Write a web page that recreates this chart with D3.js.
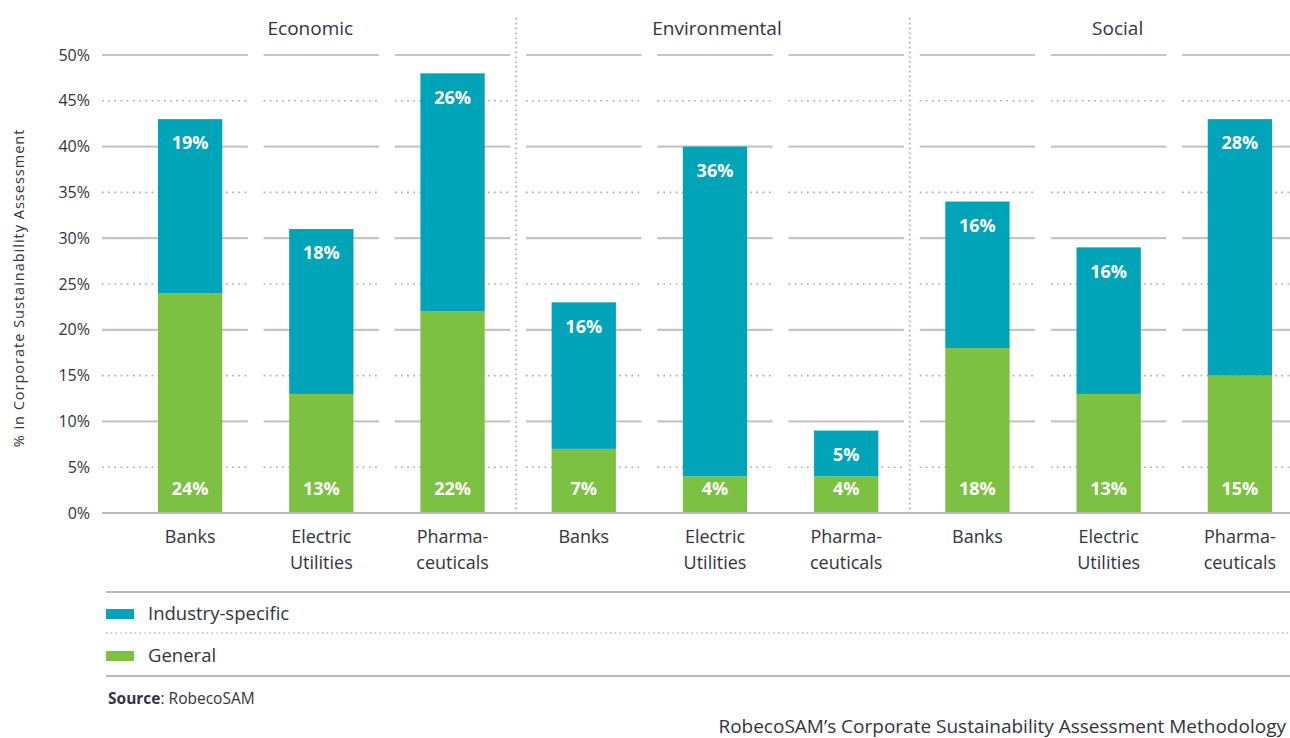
<!DOCTYPE html>
<html>
<head>
<meta charset="utf-8">
<script src="https://cdn.jsdelivr.net/npm/d3@7"></script>
<style>
  body { margin: 0; background: #fff; }
  svg text { font-family: 'Open Sans', sans-serif; fill: #33333d; }
</style>
</head>
<body>
<div id="chart"></div>
<script>
const { d3 } = window;

// Data
const groups = ['Economic', 'Environmental', 'Social'];
const industries = ['Banks', 'Electric Utilities', 'Pharmaceuticals'];
const industryLines = [['Banks'], ['Electric', 'Utilities'], ['Pharma-', 'ceuticals']];
const generalValues = [24, 13, 22, 7, 4, 4, 18, 13, 15];
const specificValues = [19, 18, 26, 16, 36, 5, 16, 16, 28];
const yTicks = [0, 5, 10, 15, 20, 25, 30, 35, 40, 45, 50];
const seriesNames = ['Industry-specific', 'General'];
const seriesColors = ['#00a4b8', '#7dc142'];

function chartInit() {
  const width = 1290;
  const height = 738;
  const axisX = 102;
  // titles sit a little off the middle band in the original
  const titleNudge = [-11, 2, 9];

  const rows = [];
  groups.forEach((g, gi) => {
    industries.forEach((ind, ii) => {
      const i = gi * industries.length + ii;
      rows.push({
        key: `${g}|${ind}`,
        group: g,
        lines: industryLines[ii],
        general: generalValues[i],
        specific: specificValues[i],
      });
    });
  });

  const svg = d3.select('#chart')
    .append('svg')
    .attr('width', width)
    .attr('height', height);

  const x = d3.scaleBand()
    .domain(rows.map((d) => d.key))
    .range([124.5, 1305.5])
    .paddingInner(0.51)
    .paddingOuter(0.255);

  const step = x.step();
  const cx = (k) => x(k) + x.bandwidth() / 2;

  const y = d3.scaleLinear()
    .domain([0, 50])
    .range([513, 55]);

  // Grid segments, one per category
  const grid = svg.append('g').attr('class', 'grid');
  yTicks.filter((t) => t > 0).forEach((t) => {
    rows.forEach((r, i) => {
      const x1 = i === 0 ? axisX : cx(r.key) - 0.44 * step;
      const x2 = i === rows.length - 1 ? width : cx(r.key) + 0.44 * step;
      const major = t % 10 === 0;
      grid.append('line')
        .attr('x1', x1)
        .attr('x2', x2)
        .attr('y1', y(t))
        .attr('y2', y(t))
        .attr('stroke', major ? '#c8c4c4' : '#a9a9a9')
        .attr('stroke-width', major ? 2.2 : 1.6)
        .attr('stroke-dasharray', major ? null : '1.6,4.6');
    });
  });

  // Dotted separators between groups
  for (let gi = 1; gi < groups.length; gi += 1) {
    const left = rows[gi * industries.length - 1].key;
    const right = rows[gi * industries.length].key;
    const sx = (cx(left) + cx(right)) / 2 - 2;
    svg.append('line')
      .attr('x1', sx)
      .attr('x2', sx)
      .attr('y1', 18)
      .attr('y2', y(0))
      .attr('stroke', '#a9a9a9')
      .attr('stroke-width', 1.6)
      .attr('stroke-dasharray', '1.6,3.2');
  }

  // Y axis
  const yAxis = d3.axisLeft(y)
    .tickValues(yTicks)
    .tickFormat((d) => `${d}%`)
    .tickSize(0)
    .tickPadding(12);

  const yg = svg.append('g')
    .attr('class', 'y axis')
    .attr('transform', `translate(${axisX}, 0)`)
    .call(yAxis);
  yg.select('.domain').remove();
  yg.selectAll('text')
    .style('font-size', '16px')
    .attr('fill', '#33333d');

  svg.append('text')
    .attr('transform', 'translate(19, 288) rotate(-90)')
    .attr('text-anchor', 'middle')
    .attr('dy', '0.35em')
    .style('font-size', '14.5px')
    .style('letter-spacing', '1px')
    .text('% in Corporate Sustainability Assessment');

  // Stacked bars
  const stack = d3.stack().keys(['general', 'specific']);
  const layers = stack(rows);

  svg.append('g')
    .selectAll('g')
    .data(layers)
    .join('g')
    .attr('fill', (d) => (d.key === 'general' ? seriesColors[1] : seriesColors[0]))
    .selectAll('rect')
    .data((d) => d)
    .join('rect')
    .attr('x', (d) => x(d.data.key))
    .attr('width', x.bandwidth())
    .attr('y', (d) => y(d[1]))
    .attr('height', (d) => y(d[0]) - y(d[1]));

  // Baseline
  svg.append('line')
    .attr('x1', axisX)
    .attr('x2', width)
    .attr('y1', y(0))
    .attr('y2', y(0))
    .attr('stroke', '#bdb9b9')
    .attr('stroke-width', 2.2);

  // Value labels
  const labels = svg.append('g')
    .attr('text-anchor', 'middle')
    .style('font-size', '18px')
    .style('font-weight', 'bold');

  labels.selectAll('.gen')
    .data(rows)
    .join('text')
    .attr('class', 'gen')
    .attr('x', (d) => cx(d.key))
    .attr('y', y(0) - 24)
    .attr('dy', '0.35em')
    .style('fill', '#fff')
    .text((d) => `${d.general}%`);

  labels.selectAll('.spec')
    .data(rows)
    .join('text')
    .attr('class', 'spec')
    .attr('x', (d) => cx(d.key))
    .attr('y', (d) => y(d.general + d.specific) + 24)
    .attr('dy', '0.35em')
    .style('fill', '#fff')
    .text((d) => `${d.specific}%`);

  // Category labels
  const cats = svg.append('g')
    .attr('text-anchor', 'middle')
    .style('font-size', '18px');

  rows.forEach((r) => {
    const t = cats.append('text')
      .attr('x', cx(r.key))
      .attr('y', 537);
    r.lines.forEach((ln, li) => {
      t.append('tspan')
        .attr('x', cx(r.key))
        .attr('dy', li === 0 ? '0.35em' : 26)
        .text(ln);
    });
  });

  // Group titles
  groups.forEach((g, gi) => {
    const mid = rows[gi * industries.length + 1].key;
    svg.append('text')
      .attr('x', cx(mid) + titleNudge[gi])
      .attr('y', 28)
      .attr('dy', '0.35em')
      .attr('text-anchor', 'middle')
      .style('font-size', '19px')
      .text(g);
  });

  // Legend
  const legendLines = [
    { y: 592, dotted: false },
    { y: 633, dotted: true },
    { y: 676, dotted: false },
  ];
  legendLines.forEach((l) => {
    svg.append('line')
      .attr('x1', 106)
      .attr('x2', width)
      .attr('y1', l.y)
      .attr('y2', l.y)
      .attr('stroke', l.dotted ? '#b5b5b5' : '#bdb9b9')
      .attr('stroke-width', l.dotted ? 1.4 : 2.2)
      .attr('stroke-dasharray', l.dotted ? '1.4,3.4' : null);
  });

  const legendY = [614, 656];
  seriesNames.forEach((name, i) => {
    svg.append('rect')
      .attr('x', 106)
      .attr('y', legendY[i] - 5)
      .attr('width', 28)
      .attr('height', 10)
      .attr('fill', seriesColors[i]);
    svg.append('text')
      .attr('x', 148)
      .attr('y', legendY[i])
      .attr('dy', '0.35em')
      .style('font-size', '18.5px')
      .text(name);
  });

  // Source and footer
  const src = svg.append('text')
    .attr('x', 108)
    .attr('y', 699)
    .attr('dy', '0.35em')
    .style('font-size', '15.5px');
  src.append('tspan').style('font-weight', 'bold').text('Source');
  src.append('tspan').text(': RobecoSAM');

  svg.append('text')
    .attr('x', 1286)
    .attr('y', 733)
    .attr('text-anchor', 'end')
    .style('font-size', '19px')
    .text('RobecoSAM\u2019s Corporate Sustainability Assessment Methodology');
}

window.onload = chartInit;
</script>
</body>
</html>
